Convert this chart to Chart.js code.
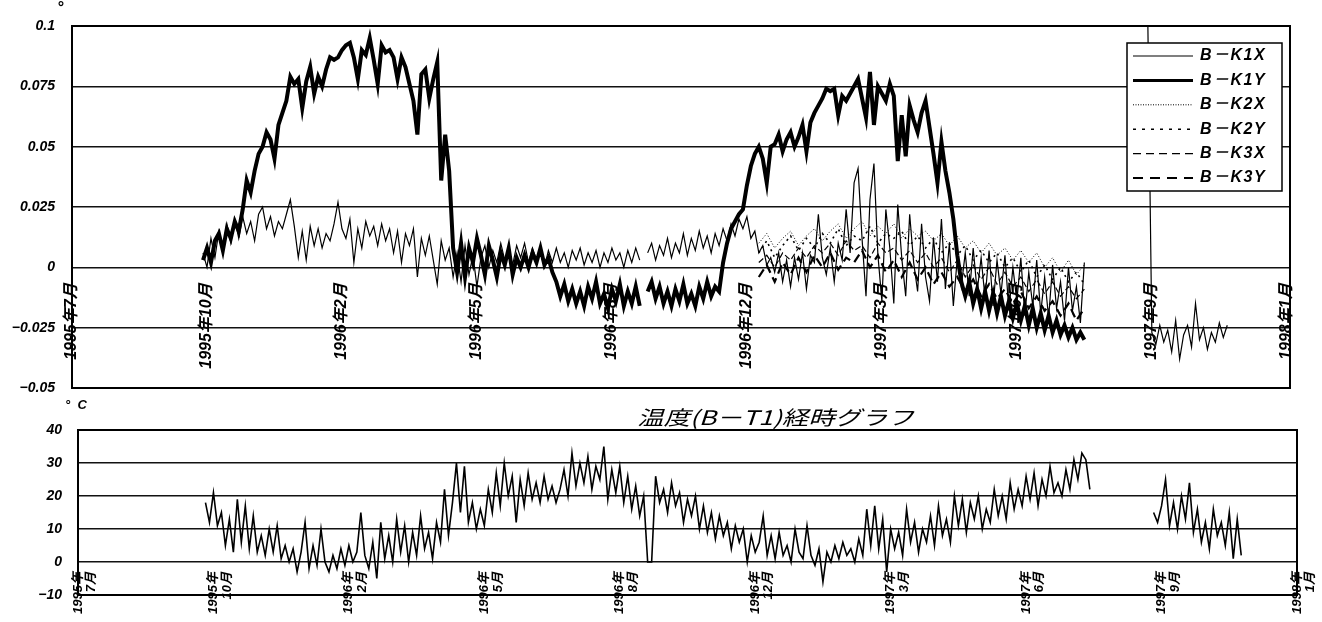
<!DOCTYPE html>
<html lang="ja">
<head>
<meta charset="utf-8">
<title>傾斜・温度経時グラフ</title>
<script src="https://cdn.jsdelivr.net/npm/chart.js@4.4.1/dist/chart.umd.min.js"></script>
<style>
  body { margin: 0; background: #fff; }
  #wrap { position: relative; width: 1322px; height: 622px; overflow: hidden; background: #fff; }
  #tiltChart { position: absolute; left: 0; top: 0; }
  #tempChart { position: absolute; left: 0; top: 395px; }
  .note { position: absolute; color: #000; font-family: 'Liberation Sans', 'Noto Sans CJK JP', sans-serif; font-style: italic; font-weight: bold; white-space: nowrap; }
  #tempTitle { transform: scaleX(1.32); transform-origin: left top; font-weight: normal; font-family: 'Noto Sans CJK JP', sans-serif; }
</style>
</head>
<body>
<div id="wrap">
  <canvas id="tiltChart" width="1322" height="395"></canvas>
  <canvas id="tempChart" width="1322" height="227"></canvas>
  <div class="note" style="left:57px; top:-1px; font-size:16px;">°</div>
  <div class="note" style="left:65px; top:397px; font-size:13px;">°&nbsp;&nbsp;C</div>
  <div class="note" id="tempTitle" style="left:637px; top:402px; font-size:20px;">温度(B－T1)経時グラフ</div>
</div>
<script>
// samples per month-label interval (category axis of the original sheet)
const tickStep = 34;
const tickLabels = ['1995年7月', '1995年10月', '1996年2月', '1996年5月', '1996年8月',
                    '1996年12月', '1997年3月', '1997年6月', '1997年9月', '1998年1月'];

// tilt, B-K1X (thin)
const k1xStart = 33;
const k1x = [
  .006, .0, .012, .004, .015, .008, .018, .01, .02, .012,
  .021, .014, .019, .011, .022, .025, .016, .021, .013, .019,
  .016, .022, .028, .017, .004, .015, .003, .017, .009, .016,
  .008, .014, .011, .018, .027, .016, .012, .02, .002, .016,
  .008, .019, .013, .017, .009, .018, .011, .016, .006, .015,
  .002, .014, .009, .016, -.004, .012, .005, .013, .003, -.007,
  .011, .003, .008, -.004, .006, -.006, .009, -.003, .005, -.008,
  .004, .009, .0, .007, .002, .01, .003, .007, .001, .009,
  .004, .01, .002, .008, .003, .006, .0, .007, .002, .008,
  .002, .006, .0, .007, .003, .008, .001, .006, .002, .007,
  .0, .006, .002, .008, .003, .006, .0, .007, .002, .008,
  .003, null, .006, .01, .003, .009, .005, .012, .004, .01,
  .006, .014, .005, .012, .007, .015, .008, .013, .006, .014,
  .009, .016, .011, .018, .013, .02, .016, .021, .012, .015,
  .006, .009, .001, .004, -.002, .006, -.006, .003, -.008, .004,
  -.005, .006, -.009, .005, .002, .022, .004, -.003, .008, -.006,
  .01, .003, .024, .006, .035, .041, .012, -.012, .028, .043,
  .005, -.014, .024, .008, -.015, .026, .004, -.012, .022, .002,
  -.01, .018, -.004, -.014, .012, -.006, .02, -.009, .01, -.016,
  .004, -.008, .006, -.012, .008, -.01, .004, -.013, .007, -.016,
  .003, -.011, .005, -.018, .0, -.014, .004, -.02, -.002, -.016,
  .003, -.019, -.004, -.021, .001, -.017, -.006, -.022, .0, -.018,
  -.008, -.023, .002
];
const k1xLateStart = 271;
const k1xLate = [.1, -.027, -.032, -.024, -.031, -.026, -.035, -.022, -.038, -.028, -.024,
                 -.033, -.015, -.03, -.025, -.034, -.027, -.031, -.023, -.029, -.024];

// tilt, B-K1Y (thick)
const k1yStart = 33;
const k1y = [
  .003, .008, .002, .011, .014, .007, .016, .012, .019, .015,
  .024, .036, .031, .04, .047, .05, .056, .053, .045, .059,
  .064, .069, .079, .076, .078, .066, .077, .083, .072, .079,
  .075, .082, .087, .086, .087, .09, .092, .093, .087, .078,
  .09, .088, .095, .086, .076, .092, .089, .09, .087, .078,
  .087, .083, .076, .069, .055, .08, .082, .07, .078, .085,
  .036, .055, .04, .008, -.002, .01, -.004, .008, .002, .012,
  .005, -.003, .009, .003, -.004, .006, .001, .008, -.003, .004,
  .0, .005, .0, .006, .002, .008, .001, .004, -.002, -.006,
  -.012, -.007, -.014, -.009, -.015, -.01, -.016, -.008, -.013, -.006,
  -.015, -.011, -.017, -.009, -.014, -.007, -.016, -.01, -.015, -.008,
  -.016, null, -.01, -.006, -.013, -.008, -.015, -.01, -.016, -.009,
  -.014, -.007, -.015, -.011, -.016, -.008, -.013, -.006, -.012, -.008,
  -.01, .002, .01, .016, .019, .022, .024, .034, .042, .047,
  .05, .045, .035, .05, .051, .055, .048, .053, .056, .05,
  .054, .059, .048, .06, .064, .067, .07, .074, .073, .074,
  .063, .071, .069, .072, .075, .078, .07, .062, .081, .059,
  .075, .072, .069, .076, .071, .044, .063, .046, .067, .061,
  .056, .064, .069, .058, .047, .035, .052, .04, .031, .02,
  .005, -.006, -.012, -.006, -.015, -.009, -.017, -.01, -.018, -.011,
  -.019, -.012, -.02, -.014, -.021, -.015, -.022, -.016, -.024, -.017,
  -.025, -.019, -.026, -.02, -.027, -.022, -.028, -.024, -.029, -.025,
  -.03, -.027, -.03
];

// tilt, B-K2X .. B-K3Y (every second sample)
const k23Start = 173;
const k23Step = 2;
const k2x = [.01, .014, .008, .012, .015, .009, .013, .016, .011, .015,
  .018, .012, .016, .019, .013, .017, .014, .018, .012, .016,
  .013, .015, .011, .014, .009, .013, .008, .011, .006, .01,
  .005, .008, .003, .007, .002, .006, .0, .004, -.002, .003, -.003, .001];
const k2y = [.006, .011, .004, .009, .013, .007, .012, .008, .014, .01,
  .016, .009, .013, .011, .017, .01, .014, .012, .015, .009,
  .013, .008, .012, .006, .01, .005, .009, .003, .007, .002,
  .006, .0, .004, -.002, .003, -.004, .001, -.005, .0, -.006, -.002, -.007];
const k3x = [.002, .005, .0, .006, .003, .008, .004, .009, .006, .01,
  .005, .011, .007, .009, .004, .01, .006, .008, .003, .007,
  .002, .006, .0, .004, -.002, .003, -.004, .001, -.005, .0,
  -.007, -.002, -.008, -.004, -.01, -.005, -.011, -.006, -.012, -.008, -.013, -.009];
const k3y = [-.004, .001, -.006, .002, -.003, .004, -.002, .005, .0, .006,
  -.001, .004, .002, .007, .0, .005, -.002, .003, -.004, .002,
  -.005, .0, -.007, -.002, -.008, -.004, -.01, -.005, -.012, -.007,
  -.013, -.009, -.015, -.01, -.017, -.012, -.018, -.014, -.02, -.015, -.022, -.017];

// temperature B-T1 (deg C)
const tempStart = 32;
const temp = [
  18, 12, 21, 11, 15, 5, 13, 3, 19, 6,
  17, 4, 14, 3, 8, 2, 10, 3, 11, 1,
  5, 0, 4, -3, 3, 12, -2, 5, -1, 10,
  0, -3, 2, -2, 4, -1, 5, 0, 3, 15,
  2, -2, 6, -5, 12, 1, 8, 0, 13, 3,
  11, 0, 9, 2, 14, 4, 9, 1, 12, 6,
  22, 8, 18, 30, 15, 29, 12, 18, 10, 16,
  11, 22, 15, 27, 17, 30, 20, 26, 12, 25,
  17, 27, 19, 24, 18, 26, 19, 23, 18, 22,
  28, 20, 33, 23, 30, 24, 32, 22, 29, 25,
  35, 19, 28, 21, 29, 18, 26, 16, 23, 14,
  20, 0, 0, 26, 18, 22, 15, 24, 17, 21,
  12, 19, 14, 20, 10, 17, 9, 15, 7, 14,
  8, 12, 4, 11, 6, 10, 0, 8, 3, 6,
  14, 2, 8, 1, 9, 2, 5, 0, 10, 3,
  1, 11, 2, -1, 4, -6, 3, 0, 5, 1,
  6, 2, 4, 0, 7, 2, 16, 5, 17, 4,
  13, -3, 10, 4, 9, 2, 16, 6, 12, 3,
  10, 6, 14, 5, 17, 8, 13, 6, 20, 11,
  19, 9, 18, 13, 20, 10, 16, 12, 22, 14,
  20, 13, 24, 16, 22, 17, 26, 19, 27, 17,
  25, 20, 29, 21, 24, 20, 28, 22, 31, 25,
  33, 31, 22
];
const tempLateStart = 270;
const tempLate = [15, 12, 17, 25, 11, 18, 10, 20, 13, 24, 9, 16, 6, 12, 4, 16, 8, 12, 5, 15, 1, 13, 2];

const fontFamily = "'Liberation Sans', 'Noto Sans CJK JP', sans-serif";

function pts(start, vals, step = 1) {
    return vals.map((v, i) => ({ x: start + i * step, y: v }));
}

function gap(x) {
    return { x: x, y: null };
}

function fmt(v) {
    return String(+v.toFixed(3)).replace('-', '−');
}

// the scales must not push the plot area around, it is fixed by layout padding
function noPadding(s) {
    s.paddingLeft = 0;
    s.paddingRight = 0;
    s.paddingTop = 0;
    s.paddingBottom = 0;
}

function xAxis(labels, maxX, padding, size, lineHeight) {
    return {
        type: 'linear',
        min: 0,
        max: maxX,
        position: { y: 0 },
        grid: { display: false, drawTicks: false },
        border: { display: false },
        afterBuildTicks: axis => {
            axis.ticks = labels.map((_, i) => ({ value: i * tickStep }));
        },
        afterFit: noPadding,
        ticks: {
            autoSkip: false,
            minRotation: 90,
            maxRotation: 90,
            padding: padding,
            color: '#000',
            font: { family: fontFamily, size: size, style: 'italic', weight: 'bold', lineHeight: lineHeight },
            callback: v => labels[Math.round(v / tickStep)]
        }
    };
}

function yAxis(min, max, step, width, padding) {
    return {
        min: min,
        max: max,
        afterFit: s => { s.width = width; noPadding(s); },
        grid: { color: '#111', lineWidth: 1.4, drawTicks: false },
        border: { display: false },
        ticks: {
            stepSize: step,
            padding: padding,
            color: '#000',
            font: { family: fontFamily, size: 14, style: 'italic', weight: 'bold' },
            callback: v => fmt(v)
        }
    };
}

const frame = {
    id: 'frame',
    afterDatasetsDraw(chart) {
        const { ctx, chartArea: a } = chart;
        ctx.save();
        ctx.strokeStyle = '#000';
        ctx.lineWidth = 2;
        ctx.strokeRect(a.left, a.top, a.right - a.left, a.bottom - a.top);
        ctx.restore();
    }
};

const boxLegend = {
    id: 'boxLegend',
    afterDraw(chart) {
        const ctx = chart.ctx;
        const x = 1127, y = 43, w = 155, h = 148, rowH = 24.4;
        ctx.save();
        ctx.fillStyle = '#fff';
        ctx.fillRect(x, y, w, h);
        ctx.strokeStyle = '#000';
        ctx.lineWidth = 1.5;
        ctx.strokeRect(x, y, w, h);
        ctx.font = 'italic bold 16px ' + fontFamily;
        ctx.letterSpacing = '1.5px';
        ctx.textBaseline = 'middle';
        chart.data.datasets.forEach((ds, i) => {
            const cy = y + 13 + i * rowH;
            ctx.setLineDash(ds.legendDash || ds.borderDash || []);
            ctx.lineWidth = Math.min(ds.borderWidth, 3);
            ctx.strokeStyle = '#000';
            ctx.beginPath();
            ctx.moveTo(x + 6, cy);
            ctx.lineTo(x + 66, cy);
            ctx.stroke();
            ctx.setLineDash([]);
            ctx.fillStyle = '#000';
            ctx.fillText(ds.label, x + 73, cy);
        });
        ctx.restore();
    }
};

function line(label, data, width, dash, legendDash) {
    return {
        label: label,
        data: data,
        borderColor: '#000',
        borderWidth: width,
        borderDash: dash,
        legendDash: legendDash,
        pointRadius: 0,
        tension: 0,
        spanGaps: false,
        fill: false
    };
}

Chart.defaults.animation = false;

new Chart(document.getElementById('tiltChart'), {
    type: 'line',
    data: {
        datasets: [
            line('B－K1X', [...pts(k1xStart, k1x), gap(263), ...pts(k1xLateStart, k1xLate)], 1.2, []),
            line('B－K1Y', pts(k1yStart, k1y), 4, []),
            line('B－K2X', pts(k23Start, k2x, k23Step), 1, [1, 2], [1, 1.5]),
            line('B－K2Y', pts(k23Start, k2y, k23Step), 1.6, [2, 4], [3, 6]),
            line('B－K3X', pts(k23Start, k3x, k23Step), 1.2, [6, 3], [8, 5]),
            line('B－K3Y', pts(k23Start, k3y, k23Step), 2.2, [9, 5], [10, 7])
        ]
    },
    options: {
        responsive: false,
        layout: { padding: { left: 0, right: 32, top: 26, bottom: 7 } },
        scales: {
            x: xAxis(tickLabels, 306.8, 16, 16, 1.2),
            y: yAxis(-0.05, 0.1, 0.025, 72, 17)
        },
        plugins: { legend: { display: false }, tooltip: { enabled: false } }
    },
    plugins: [frame, boxLegend]
});

const tempTickLabels = tickLabels.map(s => {
    const k = s.indexOf('年') + 1;
    return [s.slice(0, k), s.slice(k)];
});

new Chart(document.getElementById('tempChart'), {
    type: 'line',
    data: {
        datasets: [
            line('B－T1', [...pts(tempStart, temp), gap(262), ...pts(tempLateStart, tempLate)], 1.6, [])
        ]
    },
    options: {
        responsive: false,
        layout: { padding: { left: 0, right: 25, top: 35, bottom: 27 } },
        scales: {
            x: xAxis(tempTickLabels, 306, 10, 13, 1.05),
            y: yAxis(-10, 40, 10, 78, 16)
        },
        plugins: { legend: { display: false }, tooltip: { enabled: false } }
    },
    plugins: [frame]
});
</script>
</body>
</html>
